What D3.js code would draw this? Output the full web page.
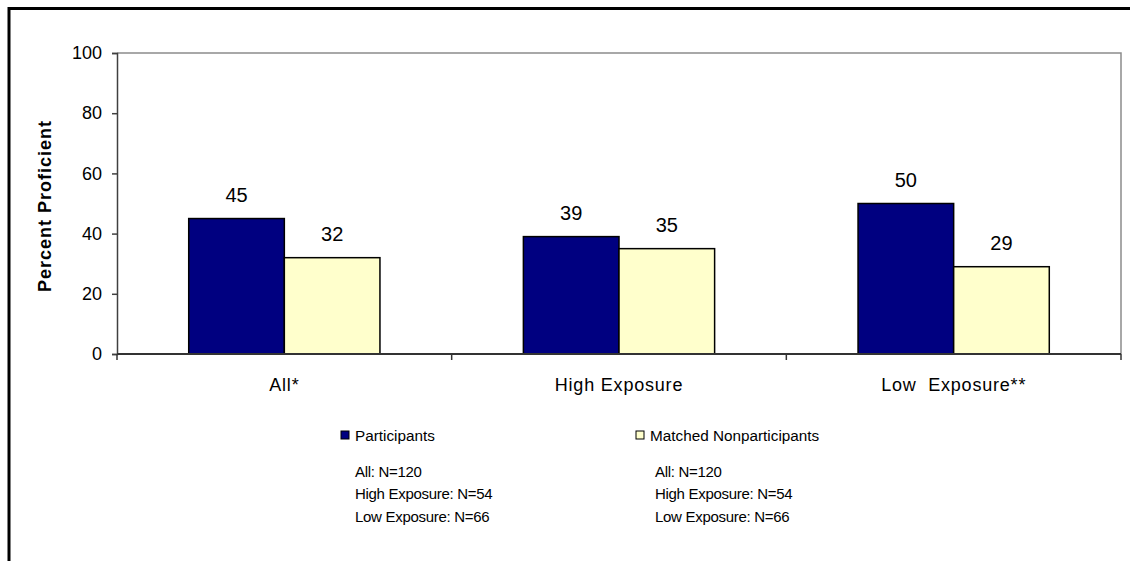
<!DOCTYPE html>
<html>
<head>
<meta charset="utf-8">
<script src="https://cdn.jsdelivr.net/npm/d3@7"></script>
<style>
  html, body { margin: 0; padding: 0; background: #fff; }
  svg { display: block; font-family: "Liberation Sans", Arial, sans-serif; }
</style>
</head>
<body>
<svg id="chart" width="1130" height="561"></svg>
<script>
// ---- data ----
const categories = ["All*", "High Exposure", "Low  Exposure**"];
const seriesNames = ["Participants", "Matched Nonparticipants"];
const participants = [45, 39, 50];
const nonparticipants = [32, 35, 29];
const yTicks = [0, 20, 40, 60, 80, 100];
const yTitle = "Percent Proficient";
const notesParticipants = ["All: N=120", "High Exposure: N=54", "Low Exposure: N=66"];
const notesNonparticipants = ["All: N=120", "High Exposure: N=54", "Low Exposure: N=66"];
const seriesColors = ["#000080", "#FFFFCC"];

const svg = d3.select("#chart");

// outer border (extends beyond the picture on the right/bottom)
svg.append("rect")
  .attr("x", 9).attr("y", 8.5).attr("width", 1200).attr("height", 700)
  .attr("fill", "none").attr("stroke", "#000").attr("stroke-width", 3);

const plot = { left: 117, right: 1121, top: 53, bottom: 354 };

const x = d3.scaleBand().domain(categories).range([plot.left, plot.right]).paddingInner(0).paddingOuter(0);
const xs = d3.scaleBand().domain(d3.range(seriesNames.length)).range([0, x.bandwidth()]).paddingInner(0).paddingOuter(0.75);
const y = d3.scaleLinear().domain([0, 100]).range([plot.bottom, plot.top]);

// plot area frame (top + right gray)
svg.append("path")
  .attr("d", `M${plot.left},${plot.top}H${plot.right}V${plot.bottom}`)
  .attr("fill", "none").attr("stroke", "#8c8c8c").attr("stroke-width", 1.5);

// bars
const data = categories.map((c, i) => ({ cat: c, vals: [participants[i], nonparticipants[i]] }));
const groups = svg.append("g").selectAll("g").data(data).join("g")
  .attr("transform", d => `translate(${x(d.cat)},0)`);

groups.selectAll("rect").data(d => d.vals.map((v, k) => ({ v, k }))).join("rect")
  .attr("x", d => xs(d.k))
  .attr("y", d => y(d.v))
  .attr("width", xs.bandwidth())
  .attr("height", d => y(0) - y(d.v))
  .attr("fill", d => seriesColors[d.k])
  .attr("stroke", "#000").attr("stroke-width", 1.5);

groups.selectAll("text").data(d => d.vals.map((v, k) => ({ v, k }))).join("text")
  .attr("x", d => xs(d.k) + xs.bandwidth() / 2)
  .attr("y", d => y(d.v) - 17)
  .attr("text-anchor", "middle")
  .attr("font-size", 20)
  .attr("fill", "#000")
  .text(d => d.v);

// y axis
const yAxis = d3.axisLeft(y).tickValues(yTicks).tickSize(5).tickPadding(10);
const gy = svg.append("g").attr("transform", `translate(${plot.left},0)`).call(yAxis);
gy.select(".domain").attr("stroke", "#404040").attr("stroke-width", 1.5);
gy.selectAll(".tick line").attr("stroke", "#404040").attr("stroke-width", 1.5);
gy.selectAll(".tick text").attr("font-size", 18).attr("fill", "#000")
  .attr("font-family", "Liberation Sans, Arial, sans-serif");

// x axis baseline and category ticks
const xAxis = d3.axisBottom(x).tickSize(0).tickPadding(24);
const gx = svg.append("g").attr("transform", `translate(0,${plot.bottom})`).call(xAxis);
gx.select(".domain").remove();
gx.selectAll(".tick text").attr("font-size", 18).attr("fill", "#000")
  .attr("letter-spacing", 0.8)
  .attr("font-family", "Liberation Sans, Arial, sans-serif")
  .style("white-space", "pre");
svg.append("line")
  .attr("x1", plot.left).attr("x2", plot.right)
  .attr("y1", plot.bottom).attr("y2", plot.bottom)
  .attr("stroke", "#333").attr("stroke-width", 2);
const boundaries = categories.map(c => x(c)).concat([x(categories[categories.length - 1]) + x.bandwidth()]);
svg.append("g").selectAll("line").data(boundaries).join("line")
  .attr("x1", d => d).attr("x2", d => d)
  .attr("y1", plot.bottom).attr("y2", plot.bottom + 6)
  .attr("stroke", "#333").attr("stroke-width", 1.5);

// y title
svg.append("text")
  .attr("transform", `translate(51,206) rotate(-90)`)
  .attr("text-anchor", "middle")
  .attr("font-size", 18).attr("font-weight", "bold")
  .attr("letter-spacing", 1)
  .text(yTitle);

// legend
const legendX = [341, 636];
const noteX = [355, 655];
const legend = svg.append("g");
seriesNames.forEach((name, k) => {
  legend.append("rect")
    .attr("x", legendX[k]).attr("y", 431).attr("width", 8).attr("height", 8)
    .attr("fill", seriesColors[k]).attr("stroke", "#000").attr("stroke-width", 1);
  legend.append("text")
    .attr("x", legendX[k] + 14).attr("y", 440.5)
    .attr("font-size", 15.3).attr("letter-spacing", 0)
    .text(name);
});
[notesParticipants, notesNonparticipants].forEach((notes, k) => {
  notes.forEach((t, j) => {
    legend.append("text")
      .attr("x", noteX[k]).attr("y", 476.5 + j * 22.5)
      .attr("font-size", 15).attr("letter-spacing", -0.3)
      .text(t);
  });
});
</script>
</body>
</html>
